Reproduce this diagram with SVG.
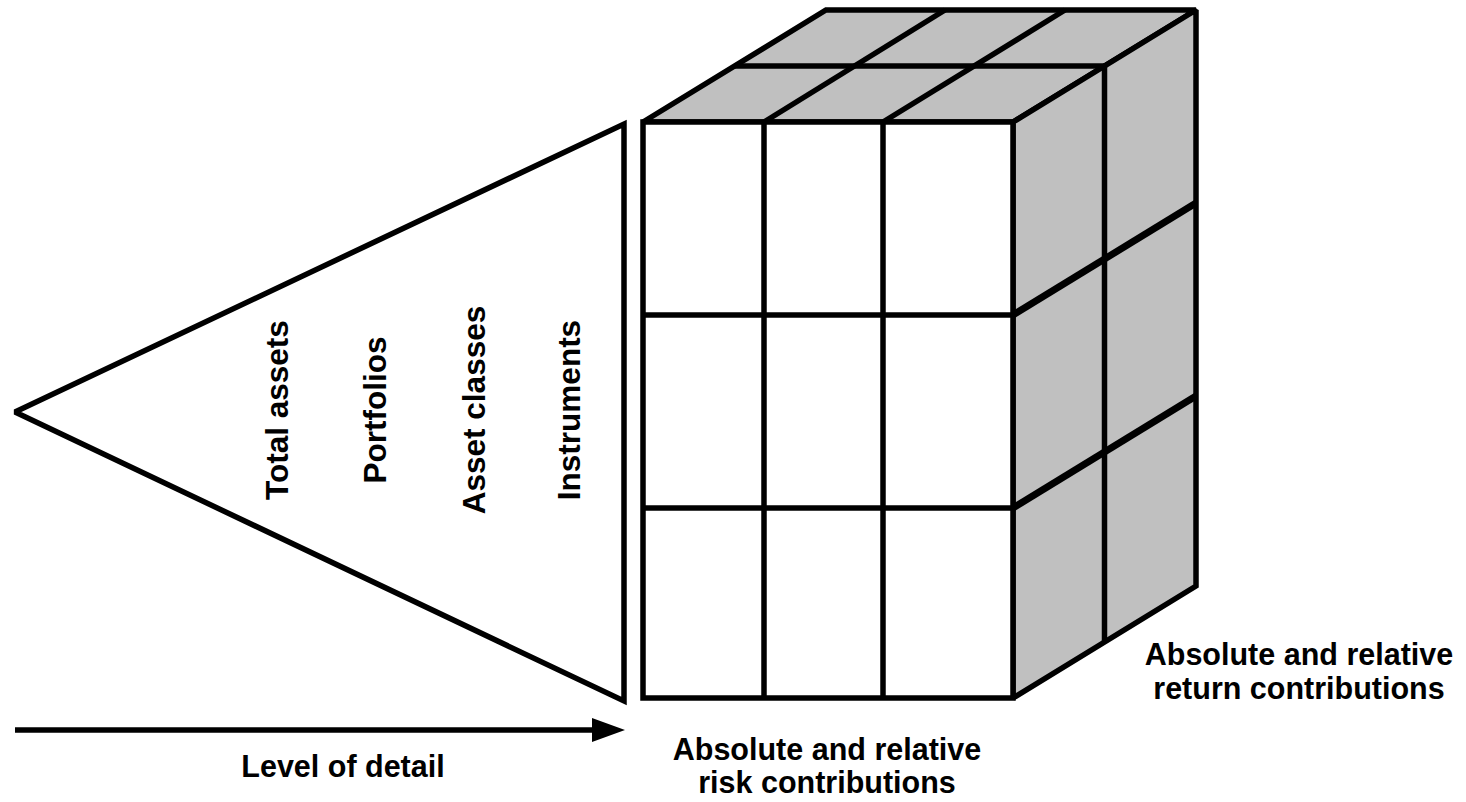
<svg xmlns="http://www.w3.org/2000/svg" width="1466" height="802" viewBox="0 0 1466 802">
<style>
.ln{stroke:#000;stroke-width:5.5;fill:none;stroke-linecap:butt}
.face{stroke:#000;stroke-width:5.5;stroke-linejoin:miter;stroke-miterlimit:2}
.g{fill:#c0c0c0}
.w{fill:#fff}
.thick{stroke-width:7}
text{font-family:"Liberation Sans",Arial,sans-serif;font-weight:bold;font-size:30.5px;fill:#000}
.rot{font-size:31.5px}
</style>
<rect width="1466" height="802" fill="#fff"/>
<g id="pyramid">
<polygon class="face w" points="15,412 624,124 624,701"/>
<text class="rot" transform="translate(288,410) rotate(-90)" text-anchor="middle">Total assets</text>
<text class="rot" transform="translate(386,410) rotate(-90)" text-anchor="middle">Portfolios</text>
<text class="rot" transform="translate(485,410) rotate(-90)" text-anchor="middle">Asset classes</text>
<text class="rot" transform="translate(580,410) rotate(-90)" text-anchor="middle">Instruments</text>
</g>
<g id="cube">
<polygon class="face g" points="643,122 1013,122 1196,10 826,10"/>
<polygon class="face g" points="1013,122 1196,10 1196,586 1013,698"/>
<rect class="face w" x="643" y="122" width="370" height="576"/>
<line class="ln" x1="734.5" y1="66" x2="1104.5" y2="66"/>
<line class="ln" x1="764" y1="122" x2="945" y2="10"/>
<line class="ln" x1="883" y1="122" x2="1065" y2="10"/>
<line class="ln" x1="1104.5" y1="66" x2="1104.5" y2="642"/>
<line class="ln thick" x1="1013" y1="315" x2="1196" y2="203"/>
<line class="ln thick" x1="1013" y1="508" x2="1196" y2="396"/>
<line class="ln" x1="764" y1="122" x2="764" y2="698"/>
<line class="ln" x1="883" y1="122" x2="883" y2="698"/>
<line class="ln" x1="643" y1="315" x2="1013" y2="315"/>
<line class="ln" x1="643" y1="508" x2="1013" y2="508"/>
</g>
<g id="connectors">
<line x1="15" y1="730" x2="596" y2="730" stroke="#000" stroke-width="5.5"/>
<polygon points="592,718 625,730 592,742" fill="#000"/>
</g>
<g id="label-detail">
<text x="343" y="777" text-anchor="middle">Level of detail</text>
</g>
<g id="label-risk">
<text x="827" y="760" text-anchor="middle">Absolute and relative</text>
<text x="827" y="793" text-anchor="middle">risk contributions</text>
</g>
<g id="label-return">
<text x="1299" y="665" text-anchor="middle">Absolute and relative</text>
<text x="1299" y="699" text-anchor="middle">return contributions</text>
</g>
</svg>
